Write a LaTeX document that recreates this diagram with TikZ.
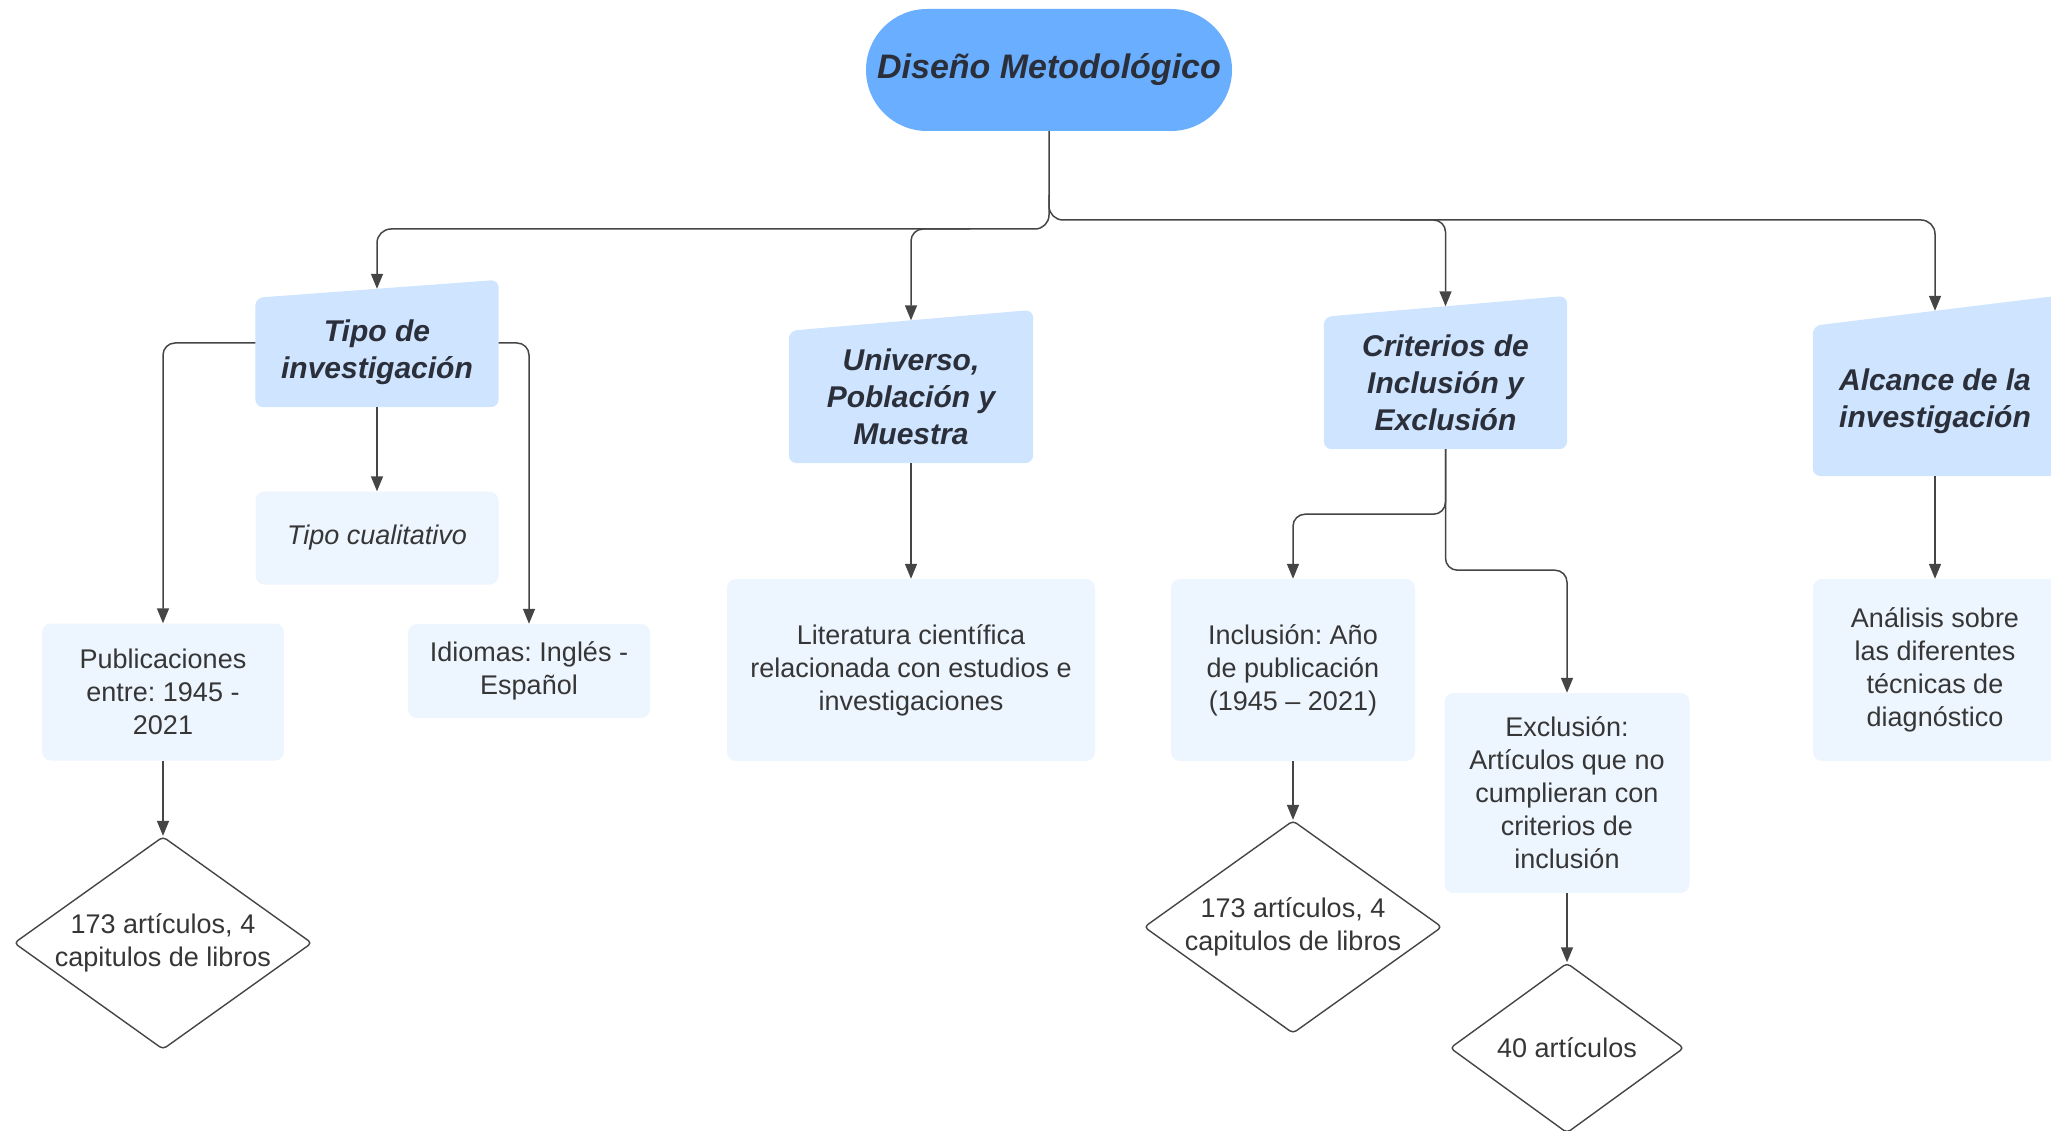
\documentclass[tikz,border=0pt]{standalone}
\usepackage{fontspec}
\setmainfont{Liberation Sans}
\usetikzlibrary{shapes.geometric,arrows.meta,calc}
\pgfdeclarelayer{bg}
\pgfsetlayers{bg,main}
\frenchspacing
\definecolor{titlefill}{HTML}{6AAFFF}
\definecolor{hdrfill}{HTML}{CFE4FF}
\definecolor{bodyfill}{HTML}{EDF5FF}
\definecolor{hdrtext}{HTML}{2B2F3A}
\definecolor{bodytext}{HTML}{363636}
\definecolor{linecol}{HTML}{454545}
\newcommand\hdrbg[2]{\begin{pgfonlayer}{bg}\fill[hdrfill, rounded corners=8pt] (#1.south west) -- (#1.north west) -- ([yshift=#2]#1.north east) -- (#1.south east) -- cycle;\end{pgfonlayer}}
\tikzset{
  titlebox/.style={rectangle, rounded corners=61pt, fill=titlefill, minimum width=366pt, minimum height=122pt, inner sep=0pt, text=hdrtext, font=\bfseries\itshape\fontsize{34}{40}\selectfont},
  hdr/.style={rectangle, minimum width=#1, inner sep=0pt, align=center, text=hdrtext, font=\bfseries\itshape\fontsize{30}{37}\selectfont},
  bodybox/.style={rectangle, rounded corners=9pt, fill=bodyfill, inner sep=0pt, align=center, text=bodytext, font=\fontsize{27}{33}\selectfont},
  dia/.style={diamond, draw=linecol, line width=1.4pt, rounded corners=4pt, fill=white, inner sep=0pt, aspect=1.4, align=center, text=bodytext, font=\fontsize{27}{33}\selectfont},
  conn/.style={draw=linecol, line width=1.5pt, -{Triangle[length=15pt,width=12pt]}},
}
\begin{document}
\begin{tikzpicture}[x=1pt,y=-1pt]
\useasboundingbox (0,0) rectangle (2051,1131);
% title
\node[titlebox] (top) at (1049,70) {\raisebox{3pt}{Diseño Metodológico}};
% headers
\node[hdr=243pt, minimum height=109pt] (tipo) at (377,352.5) {Tipo de\\investigación};
\node[hdr=244pt, minimum height=132pt] (univ) at (911,397) {Universo,\\Población y\\Muestra};
\node[hdr=243pt, minimum height=132pt] (crit) at (1445.5,383) {Criterios de\\Inclusión y\\Exclusión};
\node[hdr=244pt, minimum height=150pt] (alc) at (1935,401) {Alcance de la\\investigación};
\hdrbg{tipo}{18pt}
\hdrbg{univ}{21pt}
\hdrbg{crit}{21pt}
\hdrbg{alc}{30pt}
% body boxes
\node[bodybox, minimum width=243pt, minimum height=93pt, font=\itshape\fontsize{27}{33}\selectfont] (cual) at (377,538) {Tipo cualitativo};
\node[bodybox, minimum width=242pt, minimum height=137pt] (pub) at (163,692) {Publicaciones\\entre: 1945 -\\2021};
\node[bodybox, minimum width=242pt, minimum height=94pt] (idi) at (529,671) {Idiomas: Inglés -\\Español};
\node[bodybox, minimum width=368pt, minimum height=182pt] (lit) at (911,670) {Literatura científica\\relacionada con estudios e\\investigaciones};
\node[bodybox, minimum width=244pt, minimum height=182pt] (inc) at (1293,670) {Inclusión: Año\\de publicación\\(1945 – 2021)};
\node[bodybox, minimum width=245pt, minimum height=200pt] (exc) at (1567,793) {Exclusión:\\Artículos que no\\cumplieran con\\criterios de\\inclusión};
\node[bodybox, minimum width=244pt, minimum height=182pt] (ana) at (1935,670) {Análisis sobre\\las diferentes\\técnicas de\\diagnóstico};
% diamonds
\node[dia, minimum width=298pt, minimum height=212pt] (d1) at (163,943) {173 artículos, 4\\capitulos de libros};
\node[dia, minimum width=298pt, minimum height=212pt] (d2) at (1293,927) {173 artículos, 4\\capitulos de libros};
\node[dia, minimum width=234pt, minimum height=170pt] (d3) at (1567,1048) {40 artículos};
% junctions
\coordinate (jt) at (1049,195);
\coordinate (ju) at (970,229);
\coordinate (jc) at (1400,220);
% top-level connectors
\draw[conn, rounded corners=14pt] (top.south) -- (1049,229) -| ([yshift=9pt]tipo.north);
\draw[conn, rounded corners=12pt] (ju) -| ([yshift=10.5pt]univ.north);
\draw[conn, rounded corners=14pt] (jt) -- (1049,220) -| ([yshift=15pt]alc.north);
\draw[conn, rounded corners=12pt] (jc) -| ([yshift=10.5pt]crit.north);
% tipo branches
\draw[conn, rounded corners=12pt] ([yshift=9.5pt]tipo.west) -| (pub.north);
\draw[conn, rounded corners=12pt] ([yshift=9.5pt]tipo.east) -| (idi.north);
\draw[conn] (tipo.south) -- (cual.north);
\draw[conn] (pub.south) -- (d1.north);
% universo
\draw[conn] (univ.south) -- (lit.north);
% criterios
\draw[conn, rounded corners=12pt] (crit.south) -- ++(0,65) -| (inc.north);
\draw[conn, rounded corners=12pt] (crit.south) -- ++(0,121) -| (exc.north);
\draw[conn] (inc.south) -- (d2.north);
\draw[conn] (exc.south) -- (d3.north);
% alcance
\draw[conn] (alc.south) -- (ana.north);
\end{tikzpicture}
\end{document}
